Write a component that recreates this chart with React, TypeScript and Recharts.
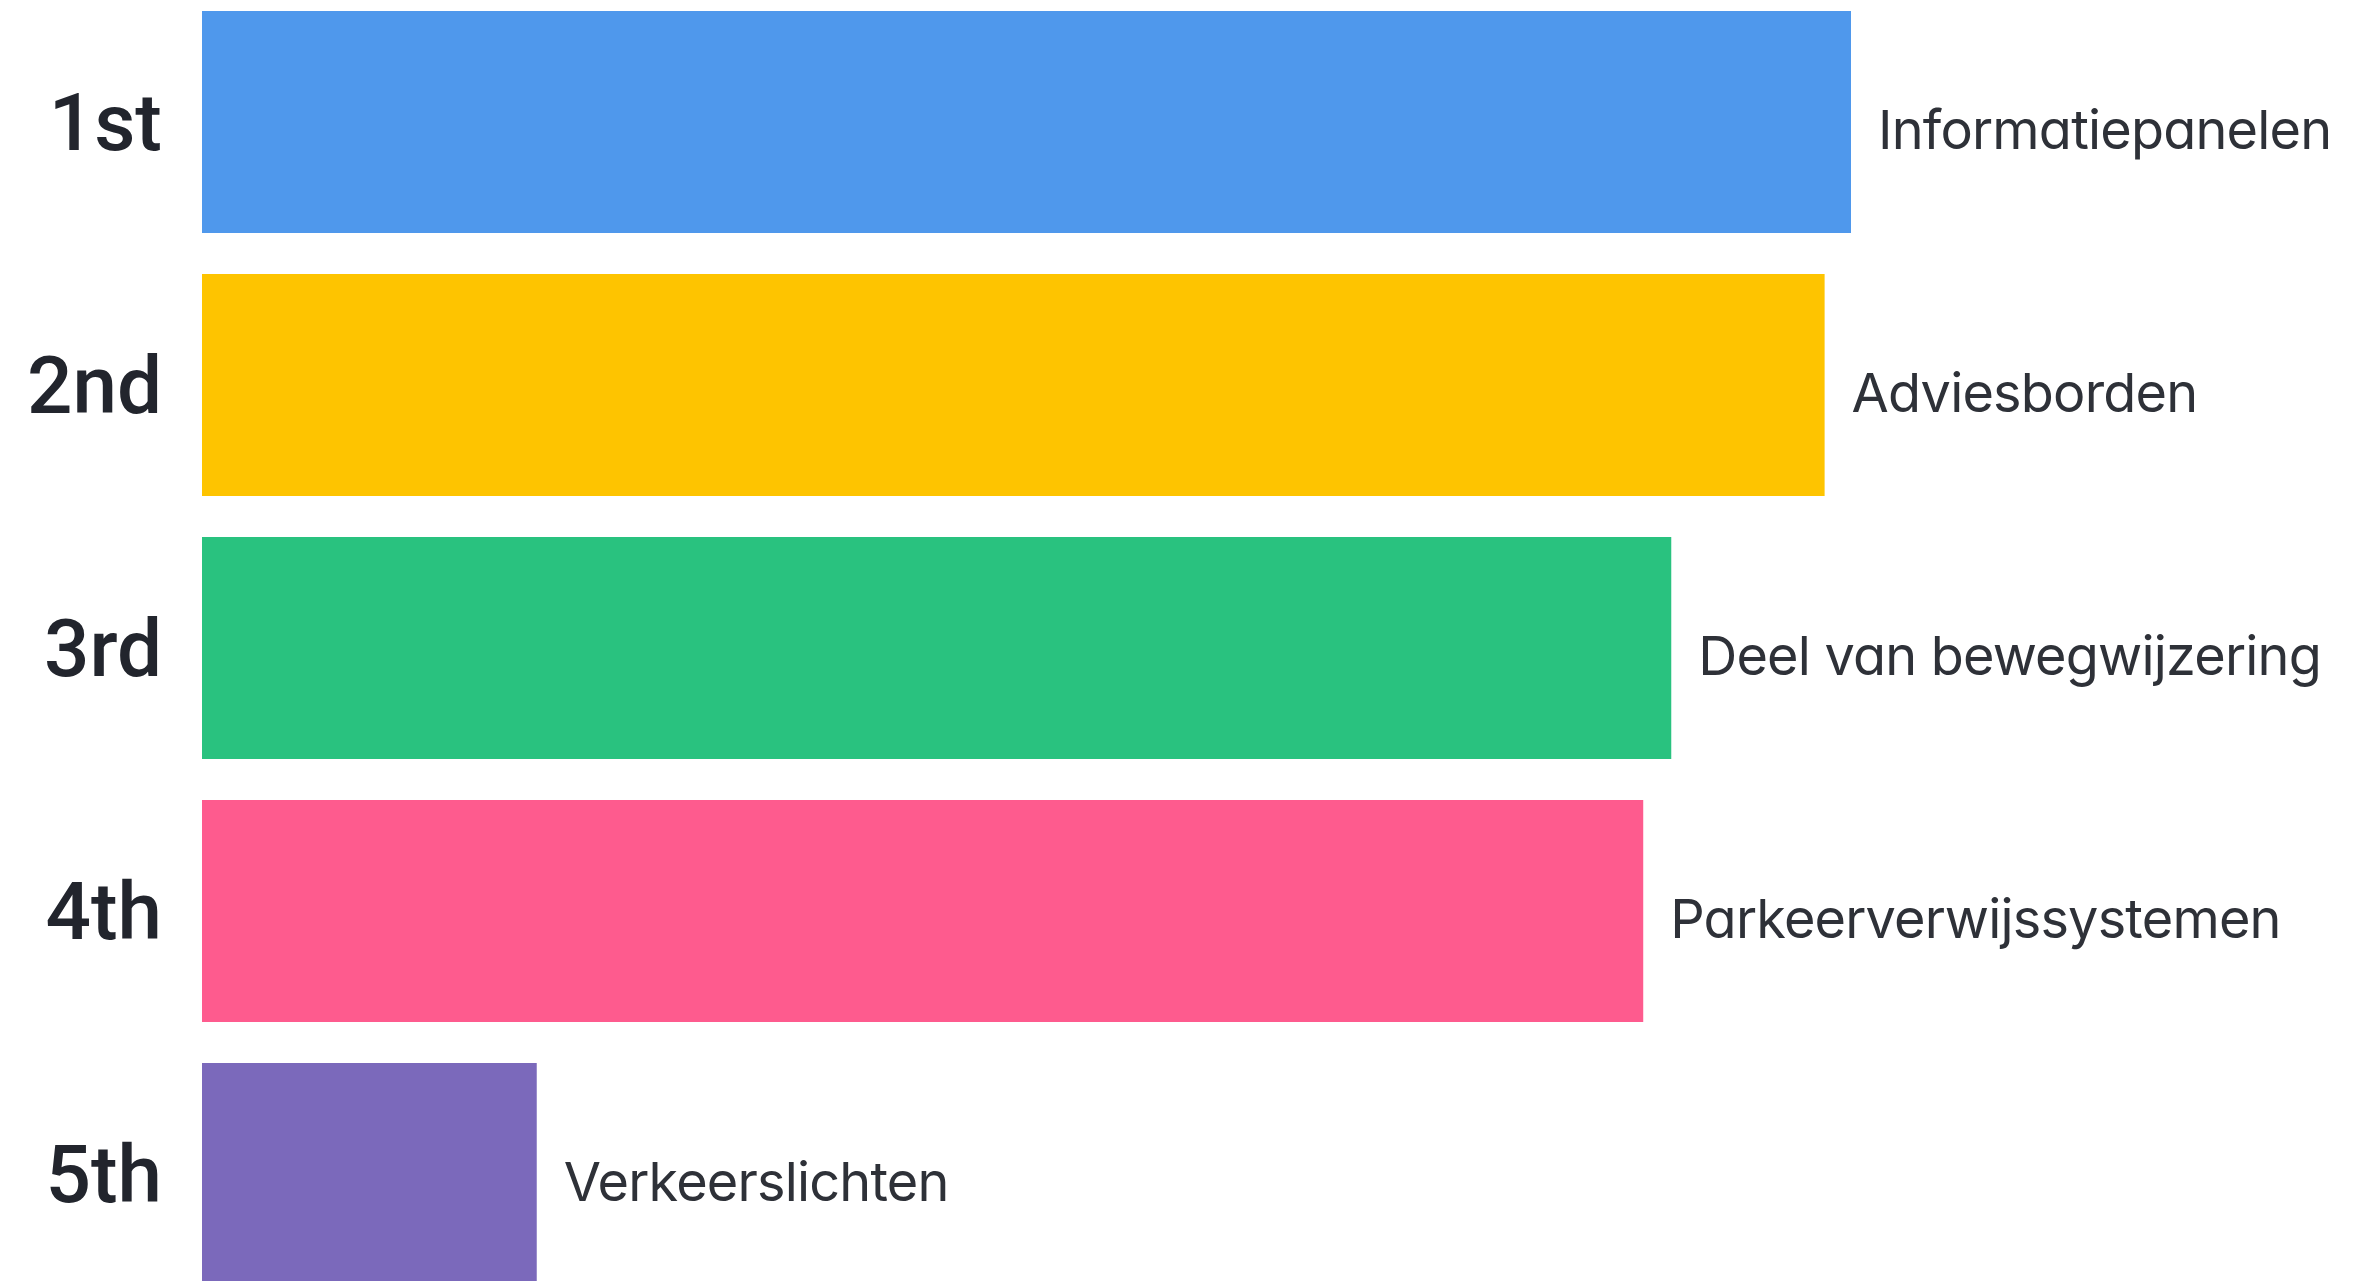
import React from 'react';
import { BarChart, Bar, XAxis, YAxis, Cell, LabelList } from 'recharts';

const ranks = ['1st', '2nd', '3rd', '4th', '5th'];
const names = [
  'Informatiepanelen',
  'Adviesborden',
  'Deel van bewegwijzering',
  'Parkeerverwijssystemen',
  'Verkeerslichten',
];
const scores = [100, 98.4, 89.1, 87.4, 20.3];
const colors = ['#4f98ec', '#fec400', '#29c27f', '#fe5b8e', '#7b69bb'];

const data = ranks.map((rank, i) => ({ rank, name: names[i], value: scores[i] }));

const renderName = (props: any) => {
  const vb = props.viewBox || props;
  const x = Number(vb.x) + Number(vb.width);
  const y = Number(vb.y) + Number(vb.height) / 2;
  return (
    <text
      x={x + 27}
      y={y + 27}
      fill="#2e3138"
      fontSize={54}
      letterSpacing={-0.8}
      fontFamily="Inter, 'Noto Sans', sans-serif"
      style={{ fontFeatureSettings: '"cv11"' }}
      textAnchor="start"
    >
      {props.value}
    </text>
  );
};

export default function App() {
  return (
    <div
      style={{
        position: 'fixed',
        left: 0,
        top: 0,
        width: 2361,
        height: 1281,
        overflow: 'hidden',
        background: '#ffffff',
      }}
    >
      <div style={{ position: 'relative', top: -10 }}>
        <BarChart
          width={2361}
          height={1315}
          data={data}
          layout="vertical"
          margin={{ top: 0, right: 510, bottom: 0, left: 0 }}
        >
          <XAxis type="number" domain={[0, 100]} hide />
          <YAxis
            type="category"
            dataKey="rank"
            width={202}
            axisLine={false}
            tickLine={false}
            tickSize={0}
            tickMargin={40}
            tick={{
              fontSize: 80,
              fontWeight: 500,
              fill: '#22252d',
              fontFamily: "Roboto, 'Liberation Sans', Arial, sans-serif",
            }}
          />
          <Bar dataKey="value" barSize={222} isAnimationActive={false}>
            {data.map((d, i) => (
              <Cell key={d.rank} fill={colors[i]} />
            ))}
            <LabelList dataKey="name" content={renderName} />
          </Bar>
        </BarChart>
      </div>
    </div>
  );
}
